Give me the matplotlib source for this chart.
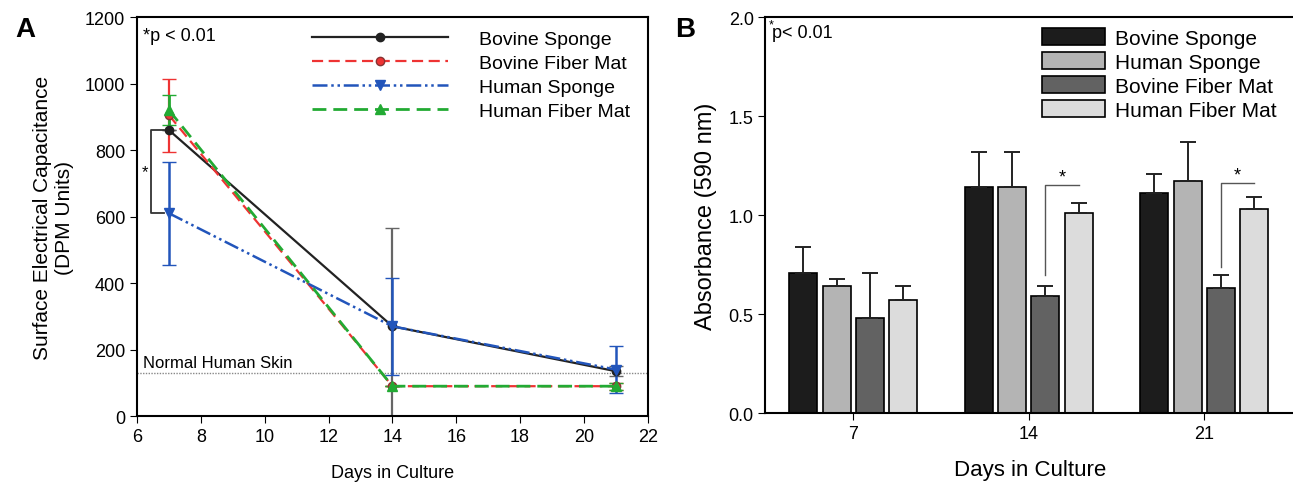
import matplotlib.pyplot as plt
import numpy as np

plt.rcParams['font.family'] = ['Liberation Sans', 'DejaVu Sans']

# Panel A: surface electrical capacitance
days = [7, 14, 21]
bov_sponge = [860, 270, 135]
bov_sponge_err = [0, 295, 15]
bov_fiber = [905, 90, 90]
bov_fiber_err = [110, 0, 10]
hum_sponge = [610, 270, 140]
hum_sponge_err = [155, 145, 70]
hum_fiber = [920, 90, 90]
hum_fiber_err = [45, 0, 10]
normal_skin = 130

# Panel B: absorbance
groups = ['7', '14', '21']
bar_names = ['Bovine Sponge', 'Human Sponge', 'Bovine Fiber Mat', 'Human Fiber Mat']
absorb = [[0.71, 1.14, 1.11],
          [0.64, 1.14, 1.17],
          [0.48, 0.59, 0.63],
          [0.57, 1.01, 1.03]]
absorb_err = [[0.13, 0.18, 0.10],
              [0.04, 0.18, 0.20],
              [0.23, 0.05, 0.07],
              [0.07, 0.05, 0.06]]
bar_colors = ['#1c1c1c', '#b4b4b4', '#626262', '#dcdcdc']

fig = plt.figure(figsize=(12.93, 4.89), dpi=100)
ax1 = fig.add_axes([0.106, 0.147, 0.395, 0.816])
ax2 = fig.add_axes([0.592, 0.153, 0.41, 0.81])

# ---- panel A
ax1.axhline(normal_skin, color='#888888', ls=(0, (1, 1)), lw=1)
c1 = ax1.errorbar(days, bov_sponge, yerr=bov_sponge_err, color='#222222', ecolor='#666666',
                  marker='o', ms=6, lw=1.6, capsize=5)
c2 = ax1.errorbar(days, bov_fiber, yerr=bov_fiber_err, color='#ee3333', ls=(0, (5, 2.5)),
                  marker='o', ms=6, mfc='#ee3333', mec='#883333', lw=1.6, capsize=5)
c3 = ax1.errorbar(days, hum_sponge, yerr=hum_sponge_err, color='#2255bb',
                  ls=(0, (6, 1.5, 1, 1.5, 1, 1.5)), marker='v', ms=7, lw=1.8, capsize=5)
c4 = ax1.errorbar(days, hum_fiber, yerr=hum_fiber_err, color='#22aa33', ls=(0, (5, 2.5)),
                  marker='^', ms=7, lw=2, capsize=5)

ax1.plot([6.85, 6.45, 6.45, 6.85], [860, 860, 610, 610], color='#333333', lw=1.3)
ax1.text(6.25, 735, '*', fontsize=12, ha='center', va='center')
ax1.text(6.2, 1130, '*p < 0.01', fontsize=13)
ax1.text(6.2, 148, 'Normal Human Skin', fontsize=12)

ax1.set_xlim(6, 22)
ax1.set_ylim(0, 1200)
ax1.set_xticks(np.arange(6, 23, 2))
ax1.set_yticks(np.arange(0, 1201, 200))
ax1.tick_params(labelsize=13, direction='out', length=5)
ax1.set_xlabel('Days in Culture', fontsize=13, labelpad=14)
ax1.set_ylabel('Surface Electrical Capacitance\n(DPM Units)', fontsize=15, labelpad=8)
ax1.legend([c1[0], c2[0], c3[0], c4[0]],
           ['Bovine Sponge', 'Bovine Fiber Mat', 'Human Sponge', 'Human Fiber Mat'],
           loc='upper right', frameon=False, fontsize=14, handlelength=7,
           handletextpad=1.6, labelspacing=0.32, numpoints=1,
           bbox_to_anchor=(1.0, 1.01))
for s in ax1.spines.values():
    s.set_linewidth(1.5)
fig.text(0.012, 0.925, 'A', fontsize=20, fontweight='bold')

# ---- panel B
x = np.arange(len(groups))
pitch = 0.19
width = 0.16
for i in range(4):
    pos = x + (i - 1.5) * pitch
    ax2.bar(pos, absorb[i], width, color=bar_colors[i], edgecolor='black',
            linewidth=1.2, label=bar_names[i],
            yerr=[np.zeros(3), absorb_err[i]], capsize=6,
            error_kw=dict(ecolor='#222222', elinewidth=1.4, capthick=1.4))

for g, lo, hi in [(1, 0.70, 1.15), (2, 0.74, 1.16)]:
    xa = g + 0.5 * pitch
    xb = g + 1.5 * pitch
    ax2.plot([xa, xa, xb], [lo, hi, hi], color='#555555', lw=1)
    ax2.text((xa + xb) / 2, hi + 0.02, '*', fontsize=13, ha='center')

ax2.text(-0.46, 1.90, 'p< 0.01', fontsize=13)
ax2.text(-0.48, 1.95, '*', fontsize=9)

ax2.set_xlim(-0.5, 2.52)
ax2.set_ylim(0, 2.0)
ax2.set_xticks(x)
ax2.set_xticklabels(groups)
ax2.set_yticks(np.arange(0, 2.01, 0.5))
ax2.set_yticklabels(['0.0', '0.5', '1.0', '1.5', '2.0'])
ax2.tick_params(labelsize=13, direction='out', length=5)
ax2.set_xlabel('Days in Culture', fontsize=16, labelpad=12)
ax2.set_ylabel('Absorbance (590 nm)', fontsize=17, labelpad=8)
ax2.legend(loc='upper right', frameon=False, fontsize=15, handlelength=3.0,
           handleheight=0.9, handletextpad=0.5, labelspacing=0.2,
           bbox_to_anchor=(1.0, 1.02))
for s in ax2.spines.values():
    s.set_linewidth(1.5)
fig.text(0.522, 0.925, 'B', fontsize=20, fontweight='bold')

fig.savefig('out.png', dpi=100)
